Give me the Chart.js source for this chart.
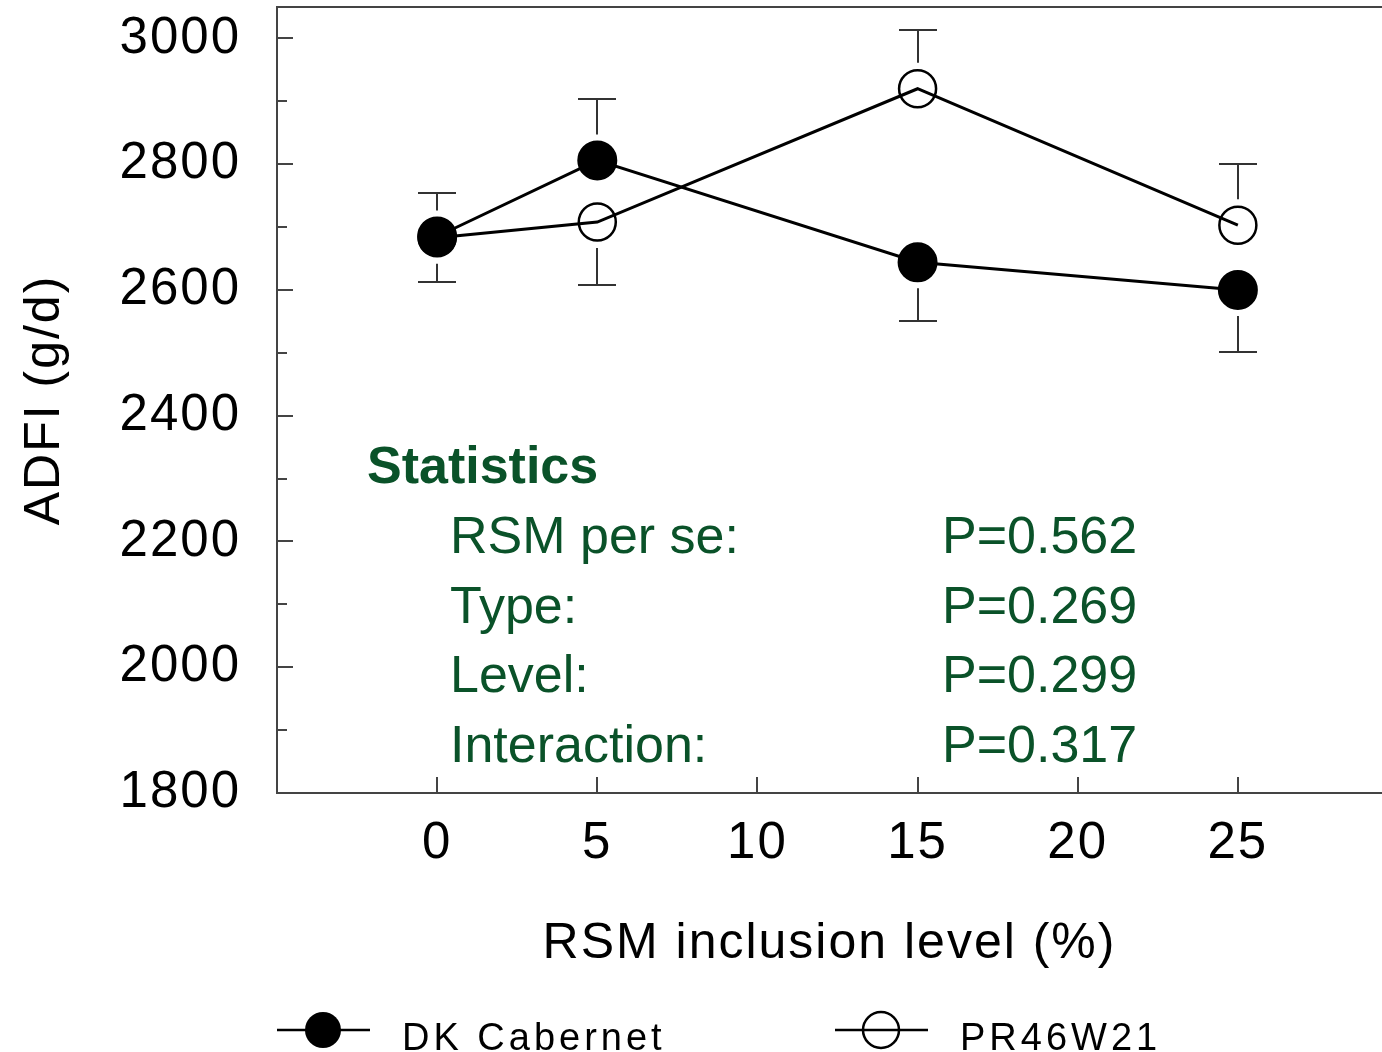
<!DOCTYPE html>
<html>
<head>
<meta charset="utf-8">
<title>ADFI - RSM inclusion level</title>
<script src="https://cdn.jsdelivr.net/npm/chart.js@4.4.1/dist/chart.umd.min.js"></script>
<style>
  html, body { margin: 0; padding: 0; background: #fff; }
  .chart-box { width: 1382px; height: 1052px; }
</style>
</head>
<body>
<div class="chart-box"><canvas id="adfiChart"></canvas></div>
<script>
//! data
const levels = [0, 5, 15, 25];
const dkCabernet = [2685, 2806, 2644, 2600];
const dkCabernetErr = [69, 97, 94, 98];
const pr46w21 = [2683, 2708, 2920, 2703];
const pr46w21Err = [70, 100, 94, 97];

const xTicks = [0, 5, 10, 15, 20, 25];
const yTicks = [1800, 2000, 2200, 2400, 2600, 2800, 3000];
const yMinorTicks = [1900, 2100, 2300, 2500, 2700, 2900];

const statLabels = ['RSM per se:', 'Type:', 'Level:', 'Interaction:'];
const statValues = ['P=0.562', 'P=0.269', 'P=0.299', 'P=0.317'];

const seriesVals = [dkCabernet, pr46w21];
const seriesErr = [dkCabernetErr, pr46w21Err];

const frameColor = '#444';
const statColor = '#0a5229';
const axisFont = '"Liberation Sans", Arial, sans-serif';

//! frame top line + inward ticks
const axisLook = {
    id: 'axisLook',
    beforeDraw(chart) {
        chart.ctx.letterSpacing = '2px';
    },
    beforeDatasetsDraw(chart) {
        const { ctx, chartArea: a, scales: { x, y } } = chart;
        ctx.save();
        ctx.strokeStyle = frameColor;
        ctx.lineWidth = 2;
        ctx.beginPath();
        ctx.moveTo(a.left, a.top);
        ctx.lineTo(a.right, a.top);
        yTicks.forEach(v => {
            if (v === y.min) return;
            const py = Math.round(y.getPixelForValue(v));
            ctx.moveTo(a.left, py);
            ctx.lineTo(a.left + 16, py);
        });
        yMinorTicks.forEach(v => {
            const py = Math.round(y.getPixelForValue(v));
            ctx.moveTo(a.left, py);
            ctx.lineTo(a.left + 10, py);
        });
        xTicks.forEach(v => {
            const px = Math.round(x.getPixelForValue(v));
            ctx.moveTo(px, a.bottom);
            ctx.lineTo(px, a.bottom - 16);
        });
        ctx.stroke();
        ctx.restore();
        ctx.letterSpacing = '0px';
    }
};

//! error bars (higher series up, lower series down)
const errorBars = {
    id: 'errorBars',
    afterDatasetsDraw(chart) {
        const { ctx, scales: { x, y } } = chart;
        ctx.save();
        ctx.strokeStyle = '#333';
        ctx.lineWidth = 2;
        seriesErr.forEach((errs, s) => {
            const vals = seriesVals[s];
            const other = seriesVals[1 - s];
            levels.forEach((lv, i) => {
                const up = vals[i] >= other[i];
                const px = Math.round(x.getPixelForValue(lv));
                const pc = y.getPixelForValue(vals[i]);
                const pe = Math.round(y.getPixelForValue(up ? vals[i] + errs[i] : vals[i] - errs[i]));
                const dir = up ? -1 : 1;
                ctx.beginPath();
                ctx.moveTo(px, pc + dir * 26);
                ctx.lineTo(px, pe);
                ctx.moveTo(px - 19, pe);
                ctx.lineTo(px + 19, pe);
                ctx.stroke();
            });
        });
        ctx.restore();
    }
};

//! statistics box + legend
const extras = {
    id: 'extras',
    afterDraw(chart) {
        const { ctx, chartArea: a } = chart;
        ctx.save();
        ctx.letterSpacing = '0px';
        ctx.fillStyle = statColor;
        ctx.textBaseline = 'alphabetic';
        ctx.font = 'bold 52px ' + axisFont;
        ctx.fillText('Statistics', a.left + 90, a.top + 476);
        ctx.font = '52px ' + axisFont;
        statLabels.forEach((lbl, i) => {
            const by = a.top + 546 + i * 69.5;
            ctx.fillText(lbl, a.left + 173, by);
            ctx.fillText(statValues[i], a.left + 665, by);
        });

        // legend
        const ly = chart.height - 22;
        const starts = [a.left, a.left + 558];
        ctx.letterSpacing = '4px';
        ctx.font = '38px ' + axisFont;
        chart.data.datasets.forEach((ds, i) => {
            const x0 = starts[i];
            ctx.strokeStyle = '#000';
            ctx.lineWidth = 2.5;
            ctx.beginPath();
            ctx.moveTo(x0, ly);
            ctx.lineTo(x0 + 93, ly);
            ctx.stroke();
            ctx.beginPath();
            ctx.arc(x0 + 46, ly, 18, 0, Math.PI * 2);
            if (i === 0) {
                ctx.fillStyle = '#000';
                ctx.fill();
            } else {
                ctx.stroke();
            }
            ctx.fillStyle = '#000';
            ctx.fillText(ds.label, x0 + 125, ly + 20);
        });
        ctx.restore();
    }
};

const ctx = document.getElementById('adfiChart');

const adfiChart = new Chart(ctx, {
    type: 'line',
    data: {
        datasets: [
            {
                label: 'DK Cabernet',
                data: levels.map((lv, i) => ({ x: lv, y: dkCabernet[i] })),
                borderColor: '#000',
                borderWidth: 3,
                pointRadius: 19,
                pointBorderWidth: 2,
                pointBackgroundColor: '#000',
                pointBorderColor: '#000',
                tension: 0,
            },
            {
                label: 'PR46W21',
                data: levels.map((lv, i) => ({ x: lv, y: pr46w21[i] })),
                borderColor: '#000',
                borderWidth: 3,
                pointRadius: 18.5,
                pointBorderWidth: 2.5,
                pointBackgroundColor: 'rgba(0,0,0,0)',
                pointBorderColor: '#000',
                tension: 0,
            },
        ]
    },
    options: {
        responsive: true,
        maintainAspectRatio: false,
        animation: false,
        layout: { autoPadding: false, padding: { top: 7, right: 0, bottom: 0, left: 0 } },
        plugins: {
            legend: { display: false },
            title: { display: false },
            tooltip: { enabled: false },
        },
        scales: {
            x: {
                type: 'linear',
                min: -5,
                max: 29.5,
                afterFit: (scale) => {
                    scale.height = 259;
                    scale.paddingLeft = 0;
                    scale.paddingRight = 0;
                },
                afterBuildTicks: (scale) => { scale.ticks = xTicks.map(v => ({ value: v })); },
                grid: { drawOnChartArea: false, drawTicks: false },
                border: { display: true, color: frameColor, width: 2 },
                ticks: {
                    color: '#000',
                    font: { family: axisFont, size: 51 },
                    padding: 20,
                    maxRotation: 0,
                    callback: (v) => String(v),
                },
                title: {
                    display: true,
                    text: 'RSM inclusion level (%)',
                    color: '#000',
                    font: { family: axisFont, size: 50 },
                    padding: { top: 0, bottom: 78 },
                },
            },
            y: {
                min: 1800,
                max: 3050,
                afterFit: (scale) => {
                    scale.width = 277;
                    scale.paddingTop = 0;
                    scale.paddingBottom = 0;
                },
                afterBuildTicks: (scale) => { scale.ticks = yTicks.map(v => ({ value: v })); },
                grid: { drawOnChartArea: false, drawTicks: false },
                border: { display: true, color: frameColor, width: 2 },
                ticks: {
                    color: '#000',
                    font: { family: axisFont, size: 51 },
                    padding: 36,
                    callback: (v) => String(v),
                },
                title: {
                    display: true,
                    text: 'ADFI (g/d)',
                    color: '#000',
                    font: { family: axisFont, size: 50 },
                    padding: { top: 15, bottom: 0 },
                },
            },
        }
    },
    plugins: [axisLook, errorBars, extras]
});
</script>
</body>
</html>
